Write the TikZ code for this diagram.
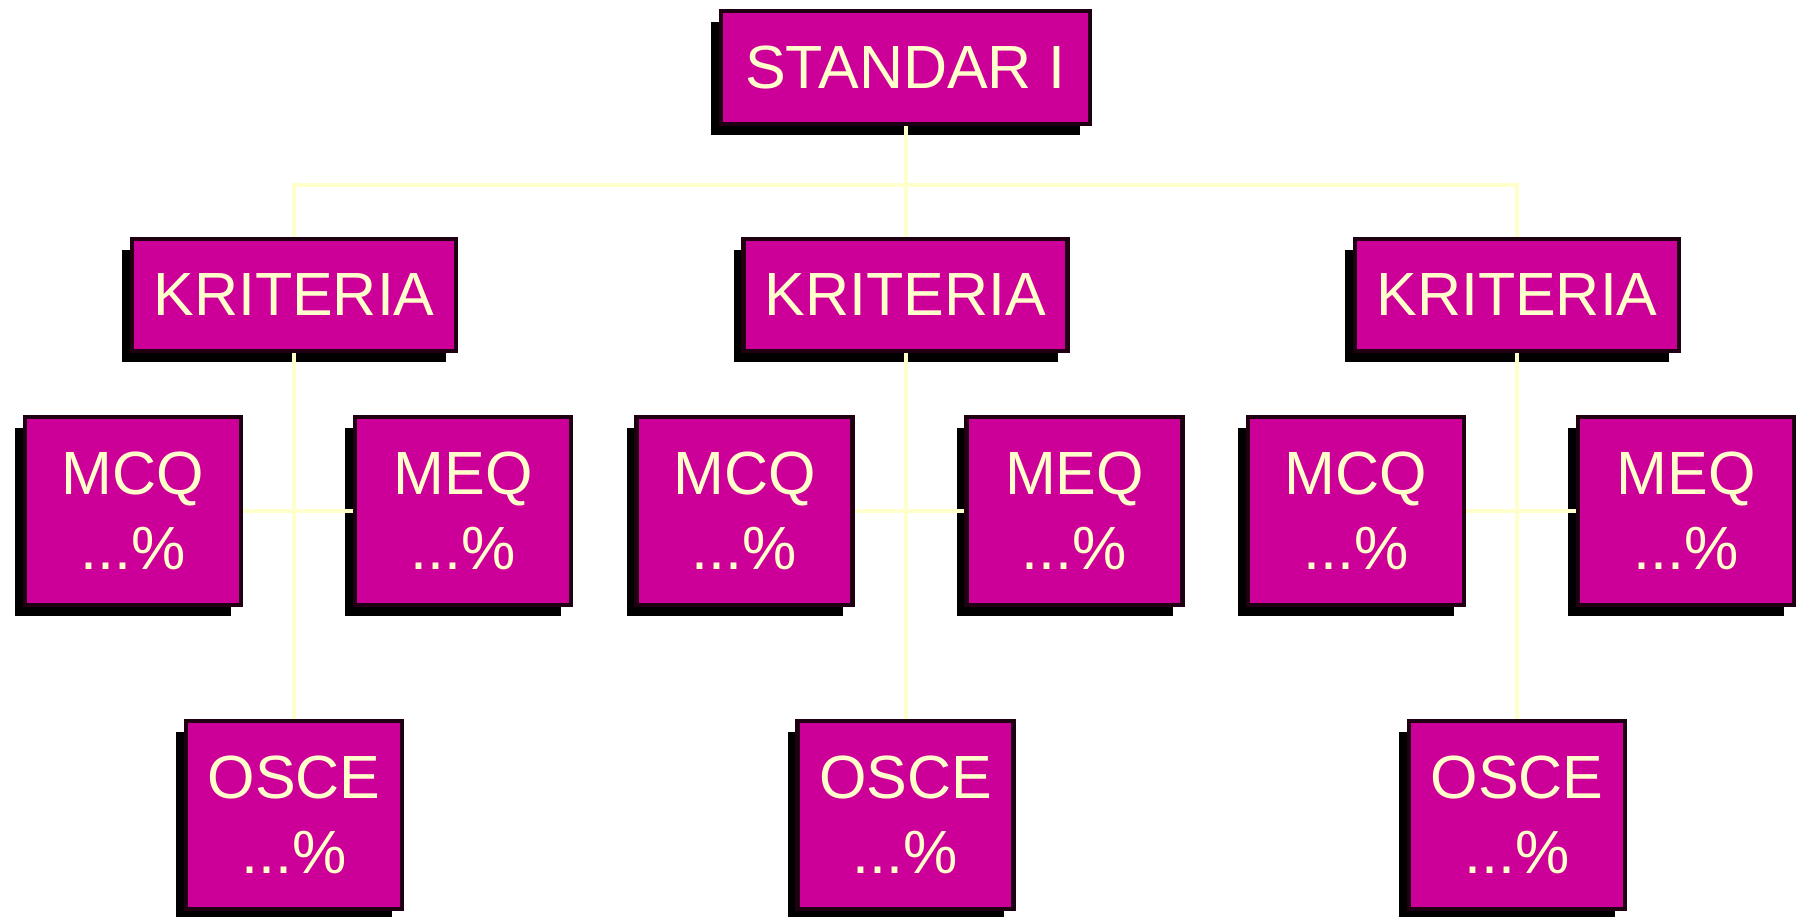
\documentclass[tikz,border=0pt]{standalone}
\usepackage{fontspec}
\setmainfont{Liberation Sans}
\usetikzlibrary{shadows}
\definecolor{boxfill}{RGB}{204,0,153}
\definecolor{boxtext}{RGB}{255,255,204}
\definecolor{boxedge}{RGB}{30,0,18}
\definecolor{linkline}{RGB}{255,255,204}
\tikzset{
  card/.style={draw=boxedge, line width=4.5pt, fill=boxfill, text=boxtext,
    inner sep=0pt, outer sep=2.25pt, align=center,
    font=\fontsize{61}{75}\selectfont,
    drop shadow={shadow xshift=-10pt, shadow yshift=-11pt, opacity=1, fill=black}},
  wide/.style={card, minimum width=369pt, minimum height=113pt},
  crit/.style={card, minimum width=324pt, minimum height=112pt},
  test/.style={card, minimum width=216pt, minimum height=188pt},
  link/.style={draw=linkline, line width=4pt},
}
\begin{document}
\begin{tikzpicture}[x=1pt,y=-1pt]
\useasboundingbox (0,0) rectangle (1797,916);

% top level
\node[wide] (std) at (905.5,67.5) {STANDAR I};
\coordinate (bus) at (905.5,185);

% three criteria with their three tests each
\foreach \c/\i in {294/1,905.5/2,1517/3}{
  \node[crit] (k\i) at (\c,295) {KRITERIA};
  \node[test] (mcq\i) at (\c-161,511) {MCQ\\...\%};
  \node[test] (meq\i) at (\c+169,511) {MEQ\\...\%};
  \node[test] (osce\i) at (\c,815) {OSCE\\...\%};
  \draw[link] (k\i.south) -- (osce\i.north);
  \draw[link] (mcq\i.east) -- (meq\i.west);
}

% tree trunk
\draw[link] (std.south) -- (k2.north);
\draw[link] (k1.north) |- (bus) -| (k3.north);
\end{tikzpicture}
\end{document}
